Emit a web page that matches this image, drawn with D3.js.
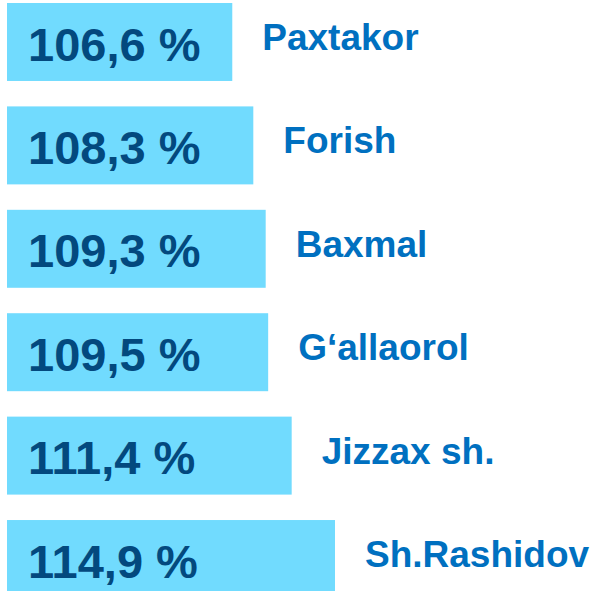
<html>

<head>
    <script src="https://cdn.jsdelivr.net/npm/d3@7"></script>
    <style>
        body { margin: 0; background: white; }
        text { font-family: "Liberation Sans", Arial, sans-serif; font-weight: bold; }
    </style>
</head>

<body>
    <svg id="container" width="612" height="591">
        <g id="body" />
    </svg>
</body>
<script>
    let districts = ["Paxtakor", "Forish", "Baxmal", "G\u2018allaorol", "Jizzax sh.", "Sh.Rashidov"]
    let growth = [106.6, 108.3, 109.3, 109.5, 111.4, 114.9]

    let data = districts.map((d, i) => ({ name: d, value: growth[i] }))
    let body = d3.select("#body")

    let left = 7

    // widths in the original are hand drawn, roughly linear from ~88
    let x = d3.scaleLinear()
        .domain([88.4, 114.9])
        .range([0, 328])

    let y = d3.scaleBand()
        .domain(districts)
        .range([3, 598])
        .paddingInner(0.246)
        .paddingOuter(0)

    let fmt = v => d3.format(".1f")(v).replace(".", ",") + " %"

    body.selectAll(".bar")
        .data(data)
        .enter().append("rect")
        .attr("class", "bar")
        .attr("x", left)
        .attr("y", d => y(d.name))
        .attr("width", d => x(d.value))
        .attr("height", y.bandwidth())
        .attr("fill", "#71dbfe")

    body.selectAll(".val")
        .data(data)
        .enter().append("text")
        .attr("class", "val")
        .attr("x", left + 21)
        .attr("y", d => y(d.name) + 57.5)
        .attr("font-size", 47)
        .attr("fill", "#03497e")
        .text(d => fmt(d.value))

    body.selectAll(".name")
        .data(data)
        .enter().append("text")
        .attr("class", "name")
        .attr("x", d => left + x(d.value) + 30)
        .attr("y", d => y(d.name) + 47)
        .attr("font-size", 37)
        .attr("fill", "#0070c0")
        .text(d => d.name)
</script>

</html>
